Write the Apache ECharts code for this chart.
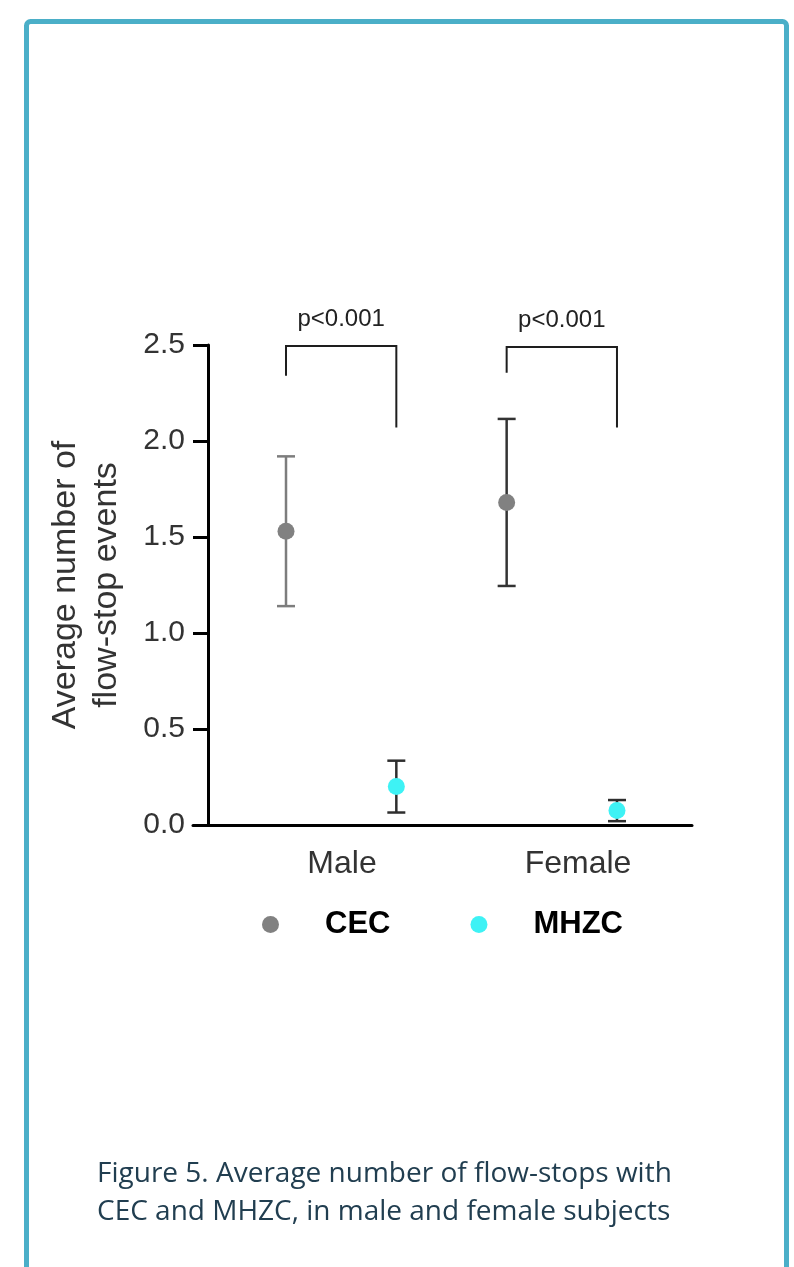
<!DOCTYPE html>
<html>
<head>
<meta charset="utf-8">
<script src="https://cdn.jsdelivr.net/npm/echarts@6/dist/echarts.min.js"></script>
<style>
  html, body { margin: 0; padding: 0; background: #ffffff; }
  #chart { width: 794px; height: 1267px; }
</style>
</head>
<body>
<div id="chart"></div>
<script>
// ---------- data ----------
const categories = ['Male', 'Female'];
const seriesNames = ['CEC', 'MHZC'];
const cecMean = [1.53, 1.68];
const cecErr = [0.39, 0.435];
const mhzcMean = [0.20, 0.075];
const mhzcErr = [0.135, 0.055];
const pLabels = ['p<0.001', 'p<0.001'];
const bracketLeftY = [2.34, 2.355];
const bracketTopY = [2.495, 2.49];
const bracketRightY = [2.07, 2.07];
const yMin = 0, yMax = 2.5, yStep = 0.5;
const yAxisTitle = ['Average number of', 'flow-stop events'];
const captionLines = [
  'Figure 5. Average number of flow-stops with',
  'CEC and MHZC, in male and female subjects'
];

// ---------- layout helpers ----------
// slot positions on the value x axis: CEC of group i at 1+2i, MHZC at 2+2i
const posCEC = i => 1 + 2 * i;
const posMHZC = i => 2 + 2 * i;

const font = 'Liberation Sans, Arial, Helvetica, sans-serif';
const cecColor = '#818181';
const mhzcColor = '#3ef2f5';
const errColors = { CEC: ['#7d7d7d', '#333333'], MHZC: ['#2e2e2e', '#2e2e2e'] };

function errData(means, errs, posFn) {
  return means.map((m, i) => [posFn(i), m - errs[i], m + errs[i], i]);
}

function errRenderer(name) {
  return function (params, api) {
    const x = api.value(0), lo = api.value(1), hi = api.value(2), idx = api.value(3);
    const pLo = api.coord([x, lo]);
    const pHi = api.coord([x, hi]);
    const hw = 9;
    const st = { stroke: errColors[name][idx], lineWidth: 2.5 };
    return {
      type: 'group',
      children: [
        { type: 'line', shape: { x1: pHi[0], y1: pHi[1], x2: pLo[0], y2: pLo[1] }, style: st },
        { type: 'line', shape: { x1: pHi[0] - hw, y1: pHi[1], x2: pHi[0] + hw, y2: pHi[1] }, style: st },
        { type: 'line', shape: { x1: pLo[0] - hw, y1: pLo[1], x2: pLo[0] + hw, y2: pLo[1] }, style: st }
      ]
    };
  };
}

const bracketData = categories.map((c, i) => [posCEC(i), posMHZC(i), bracketLeftY[i], bracketTopY[i], bracketRightY[i], i]);

const option = {
  animation: false,
  backgroundColor: '#ffffff',
  graphic: [{
    type: 'rect',
    shape: { x: 26.5, y: 21.5, width: 760, height: 1300, r: 4 },
    style: { fill: 'none', stroke: '#4bafc8', lineWidth: 5 },
    silent: true
  }],
  title: {
    text: captionLines.join('\n'),
    left: 92,
    top: 1150,
    textStyle: {
      fontFamily: 'Open Sans, sans-serif',
      fontSize: 28,
      fontWeight: 'normal',
      color: '#213e50',
      lineHeight: 38
    }
  },
  legend: {
    data: seriesNames,
    left: 257,
    top: 904,
    itemWidth: 17,
    itemHeight: 17,
    itemGap: 80,
    textStyle: {
      fontFamily: font,
      fontSize: 31,
      fontWeight: 'bold',
      color: '#000000',
      padding: [0, 0, 0, 41]
    }
  },
  grid: [
    { left: 193, right: 102, top: 345, bottom: 442 },
    { left: 224, right: 98, top: 345, bottom: 442 }
  ],
  xAxis: [
    {
      type: 'value', gridIndex: 0, min: 0.157, max: 4.68,
      axisLine: { show: true, onZero: false, lineStyle: { color: '#000000', width: 3 } },
      axisTick: { show: false }, axisLabel: { show: false }, splitLine: { show: false }
    },
    {
      type: 'category', gridIndex: 1, data: categories, boundaryGap: true,
      axisLine: { show: false }, axisTick: { show: false }, splitLine: { show: false },
      axisLabel: { fontFamily: font, fontSize: 32, color: '#333333', margin: 23 }
    }
  ],
  yAxis: [
    {
      type: 'value', gridIndex: 0, min: yMin, max: yMax, interval: yStep,
      offset: -15,
      name: yAxisTitle.join('\n'),
      nameLocation: 'middle',
      nameGap: 81,
      nameTextStyle: { fontFamily: font, fontSize: 34, color: '#333333', lineHeight: 41 },
      axisLine: { show: true, onZero: false, lineStyle: { color: '#000000', width: 3 } },
      axisTick: { show: true, length: 15, lineStyle: { color: '#000000', width: 3 } },
      axisLabel: {
        fontFamily: font, fontSize: 30, color: '#333333', margin: 23,
        formatter: v => v.toFixed(1)
      },
      splitLine: { show: false }
    },
    {
      type: 'value', gridIndex: 1, min: yMin, max: yMax, show: false
    }
  ],
  series: [
    {
      name: 'CEC error', type: 'custom', xAxisIndex: 0, yAxisIndex: 0, z: 2, clip: false,
      renderItem: errRenderer('CEC'),
      data: errData(cecMean, cecErr, posCEC)
    },
    {
      name: 'MHZC error', type: 'custom', xAxisIndex: 0, yAxisIndex: 0, z: 2, clip: false,
      renderItem: errRenderer('MHZC'),
      data: errData(mhzcMean, mhzcErr, posMHZC)
    },
    {
      name: 'CEC', type: 'scatter', xAxisIndex: 0, yAxisIndex: 0, z: 5,
      symbol: 'circle', symbolSize: 17,
      itemStyle: { color: cecColor, opacity: 1 },
      data: cecMean.map((m, i) => [posCEC(i), m])
    },
    {
      name: 'MHZC', type: 'scatter', xAxisIndex: 0, yAxisIndex: 0, z: 5,
      symbol: 'circle', symbolSize: 17,
      itemStyle: { color: mhzcColor, opacity: 1 },
      data: mhzcMean.map((m, i) => [posMHZC(i), m])
    },
    {
      name: 'significance', type: 'custom', xAxisIndex: 0, yAxisIndex: 0, z: 3, clip: false,
      renderItem: function (params, api) {
        const xl = api.value(0), xr = api.value(1);
        const yl = api.value(2), yt = api.value(3), yr = api.value(4), idx = api.value(5);
        const a = api.coord([xl, yl]);
        const b = api.coord([xl, yt]);
        const c = api.coord([xr, yt]);
        const d = api.coord([xr, yr]);
        return {
          type: 'group',
          children: [
            {
              type: 'polyline',
              shape: { points: [a, b, c, d] },
              style: { stroke: '#1e1e1e', lineWidth: 2, fill: 'none' }
            },
            {
              type: 'text',
              style: {
                text: pLabels[idx],
                x: (b[0] + c[0]) / 2,
                y: b[1] - 27,
                align: 'center',
                verticalAlign: 'middle',
                font: '24px ' + font,
                fill: '#222222'
              }
            }
          ]
        };
      },
      data: bracketData
    }
  ]
};

const chart = echarts.init(document.getElementById('chart'), null, { renderer: 'canvas' });
chart.setOption(option);
</script>
</body>
</html>
